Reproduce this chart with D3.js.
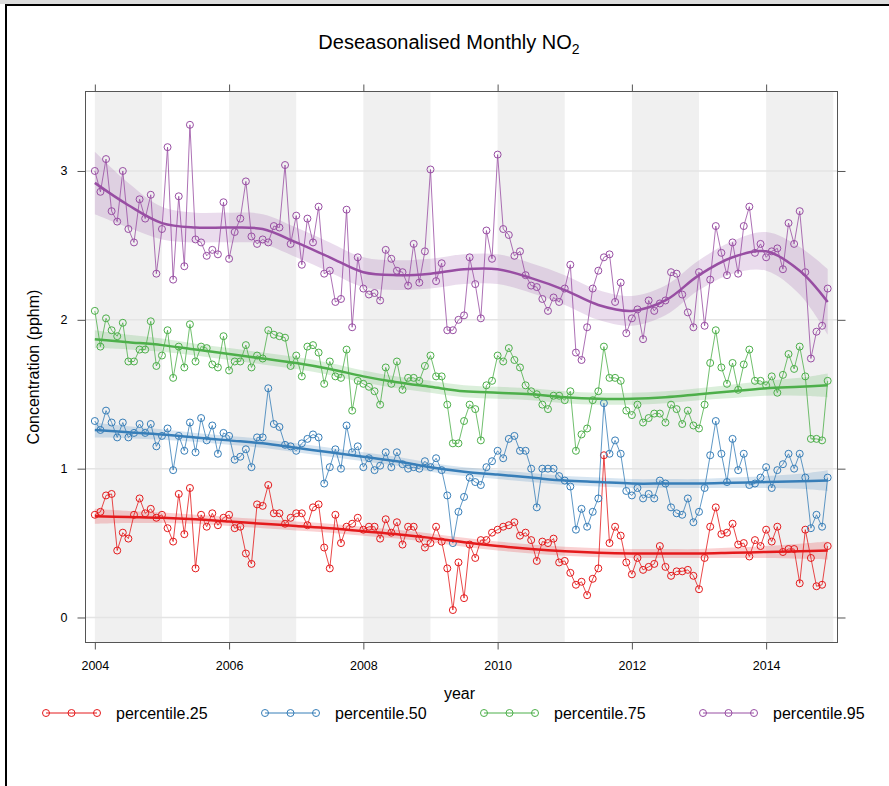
<!DOCTYPE html>
<html><head><meta charset="utf-8">
<script src="https://cdn.jsdelivr.net/npm/d3@7"></script>
<style>
body{margin:0;background:#fff}
svg{display:block}
text{font-family:"Liberation Sans",Arial,sans-serif;fill:#000}
</style>
</head><body><svg id="c" width="889" height="786"></svg>
<script>
// ---------- data ----------
const startYear = 2004;           // first month: Jan 2004, monthly to Dec 2014
const seriesNames = ["percentile.25","percentile.50","percentile.75","percentile.95"];
const seriesColors = ["#E41A1C","#377EB8","#4DAF4A","#984EA3"];

const p25 = [0.69,0.71,0.82,0.83,0.45,0.57,0.53,0.69,0.80,0.70,0.73,0.67,
0.69,0.60,0.51,0.83,0.56,0.87,0.33,0.69,0.61,0.70,0.62,0.67,
0.69,0.60,0.61,0.43,0.36,0.76,0.75,0.89,0.70,0.70,0.63,0.67,
0.70,0.70,0.62,0.74,0.76,0.47,0.33,0.69,0.50,0.61,0.63,0.67,
0.59,0.61,0.61,0.53,0.66,0.57,0.64,0.49,0.61,0.61,0.53,0.47,
0.50,0.61,0.51,0.33,0.05,0.37,0.13,0.49,0.40,0.52,0.52,0.57,
0.59,0.61,0.62,0.64,0.55,0.57,0.52,0.38,0.51,0.50,0.53,0.37,
0.38,0.30,0.22,0.24,0.15,0.26,0.33,1.09,0.50,0.61,0.55,0.37,
0.29,0.40,0.32,0.34,0.36,0.48,0.34,0.28,0.31,0.31,0.32,0.28,
0.19,0.40,0.61,0.74,0.56,0.57,0.63,0.49,0.50,0.41,0.52,0.48,
0.59,0.51,0.61,0.44,0.46,0.46,0.23,0.59,0.40,0.21,0.22,0.48];

const p50 = [1.32,1.26,1.39,1.31,1.21,1.31,1.21,1.24,1.30,1.24,1.30,1.15,
1.22,1.27,0.99,1.22,1.12,1.31,1.11,1.34,1.19,1.29,1.10,1.24,
1.22,1.06,1.08,1.13,1.01,1.21,1.21,1.54,1.30,1.28,1.16,1.15,
1.12,1.17,1.20,1.23,1.21,0.90,1.01,1.13,1.00,1.29,1.11,1.15,
1.01,1.07,0.99,1.02,1.11,1.01,1.11,1.03,1.00,1.01,1.00,1.05,
1.01,1.07,0.99,0.82,0.50,0.71,0.81,0.94,0.91,0.89,1.01,1.05,
1.12,1.07,1.20,1.22,1.12,1.12,1.00,0.74,1.00,1.00,1.00,0.95,
0.92,0.88,0.59,0.73,0.61,0.71,0.80,1.44,1.10,1.19,1.10,0.85,
0.82,0.87,0.80,0.83,0.80,0.92,0.90,0.74,0.70,0.69,0.80,0.64,
0.71,0.87,1.09,1.32,1.10,0.91,1.20,0.99,1.10,0.89,0.90,0.94,
1.01,0.87,0.99,1.03,1.10,1.00,1.10,0.94,0.60,0.69,0.61,0.94];

const p75 = [2.06,1.82,2.01,1.93,1.89,1.98,1.72,1.72,1.80,1.80,1.99,1.69,
1.76,1.93,1.61,1.82,1.68,1.97,1.72,1.82,1.81,1.70,1.68,1.89,
1.66,1.72,1.72,1.83,1.68,1.76,1.74,1.93,1.90,1.89,1.88,1.69,
1.76,1.62,1.82,1.83,1.78,1.57,1.72,1.62,1.61,1.80,1.39,1.59,
1.57,1.55,1.52,1.43,1.68,1.57,1.72,1.53,1.61,1.61,1.59,1.69,
1.76,1.62,1.62,1.43,1.17,1.17,1.32,1.43,1.40,1.19,1.56,1.59,
1.76,1.72,1.81,1.73,1.68,1.56,1.52,1.50,1.43,1.40,1.49,1.49,
1.46,1.52,1.12,1.23,1.27,1.46,1.52,1.82,1.61,1.61,1.59,1.39,
1.36,1.43,1.31,1.34,1.37,1.37,1.31,1.43,1.40,1.30,1.39,1.29,
1.27,1.43,1.71,1.93,1.68,1.57,1.71,1.53,1.70,1.80,1.59,1.59,
1.56,1.62,1.51,1.63,1.77,1.67,1.82,1.62,1.20,1.20,1.19,1.59];

const p95 = [3.00,2.86,3.08,2.73,2.66,3.00,2.61,2.52,2.81,2.68,2.84,2.31,
2.61,3.16,2.27,2.83,2.36,3.31,2.54,2.52,2.43,2.47,2.44,2.79,
2.41,2.59,2.68,2.93,2.56,2.51,2.54,2.52,2.63,2.62,3.04,2.51,
2.70,2.37,2.68,2.52,2.76,2.31,2.33,2.12,2.14,2.74,1.95,2.42,
2.21,2.17,2.18,2.13,2.47,2.41,2.33,2.32,2.23,2.51,2.25,2.46,
3.01,2.26,2.38,1.93,1.93,2.00,2.03,2.42,2.24,2.01,2.60,2.41,
3.11,2.61,2.57,2.43,2.46,2.30,2.23,2.22,2.14,2.06,2.15,2.12,
2.21,2.37,1.78,1.73,1.95,2.21,2.33,2.42,2.44,2.12,2.25,1.91,
2.01,2.07,1.87,2.13,2.06,2.11,2.13,2.32,2.31,2.17,2.05,1.95,
2.32,1.96,2.27,2.63,2.45,2.30,2.52,2.31,2.63,2.76,2.45,2.51,
2.42,2.46,2.48,2.34,2.65,2.51,2.73,2.32,1.74,1.92,1.96,2.21];

// smooth trend (read at half-year points) and half-width of its shaded band
const trendYears = [2004,2004.5,2005,2005.5,2006,2006.5,2007,2007.5,2008,2008.5,2009,2009.5,
2010,2010.5,2011,2011.5,2012,2012.5,2013,2013.5,2014,2014.5,2014.917];
const trend25 = [0.68,0.675,0.67,0.66,0.645,0.63,0.615,0.60,0.58,0.56,0.535,0.505,
0.48,0.46,0.445,0.435,0.43,0.43,0.43,0.435,0.44,0.445,0.45];
const trend50 = [1.26,1.245,1.23,1.21,1.19,1.17,1.14,1.11,1.08,1.05,1.01,0.98,
0.96,0.94,0.92,0.91,0.90,0.90,0.90,0.905,0.91,0.915,0.92];
const trend75 = [1.87,1.85,1.83,1.80,1.77,1.74,1.71,1.67,1.62,1.58,1.55,1.52,
1.51,1.50,1.48,1.47,1.47,1.48,1.50,1.52,1.54,1.55,1.56];
const trend95 = [2.92,2.77,2.65,2.62,2.62,2.61,2.52,2.42,2.32,2.30,2.31,2.34,
2.34,2.28,2.20,2.10,2.06,2.13,2.30,2.42,2.46,2.33,2.12];
const band25 = [0.05,0.04,0.035,0.03,0.03,0.03,0.03,0.03,0.03,0.03,0.03,0.03,
0.03,0.03,0.03,0.03,0.03,0.03,0.03,0.035,0.04,0.05,0.06];
const band50 = [0.05,0.04,0.035,0.03,0.03,0.03,0.03,0.03,0.03,0.03,0.03,0.03,
0.03,0.03,0.03,0.03,0.03,0.03,0.03,0.035,0.04,0.05,0.07];
const band75 = [0.06,0.05,0.045,0.04,0.04,0.04,0.04,0.04,0.04,0.04,0.04,0.04,
0.04,0.04,0.04,0.04,0.04,0.04,0.04,0.045,0.05,0.06,0.08];
const band95 = [0.21,0.15,0.11,0.10,0.10,0.10,0.10,0.10,0.10,0.10,0.10,0.10,
0.10,0.10,0.10,0.10,0.10,0.10,0.10,0.11,0.13,0.16,0.22];

const xTicks = [2004,2006,2008,2010,2012,2014];
const yTicks = [0,1,2,3];
const shadedYears = [2004,2006,2008,2010,2012,2014];

const values = [p25,p50,p75,p95];
const trends = [trend25,trend50,trend75,trend95];
const bands = [band25,band50,band75,band95];

// ---------- layout ----------
const svg = d3.select("#c");
const L = 85.5, R = 837.5, T = 91.5, B = 642.5;
const x = d3.scaleLinear().domain([2003.861, 2015.063]).range([L, R]);
const y = d3.scaleLinear().domain([-0.168, 3.534]).range([B, T]);

// page border
svg.append("rect").attr("x",0).attr("y",0).attr("width",889).attr("height",4).attr("fill","#dcdcdc");
svg.append("rect").attr("x",5).attr("y",4).attr("width",884).attr("height",2).attr("fill","#000");
svg.append("rect").attr("x",5).attr("y",4).attr("width",2).attr("height",782).attr("fill","#000");

svg.append("defs").append("clipPath").attr("id","clip")
  .append("rect").attr("x",L).attr("y",T).attr("width",R-L).attr("height",B-T);

const plot = svg.append("g").attr("clip-path","url(#clip)");

// alternating year shading
plot.selectAll("rect.shade").data(shadedYears).join("rect").attr("class","shade")
  .attr("x", d => x(d)).attr("y", T)
  .attr("width", d => Math.min(x(d+1), R) - x(d)).attr("height", B-T)
  .attr("fill","#f0f0f0");

// horizontal grid
plot.selectAll("line.grid").data(yTicks).join("line").attr("class","grid")
  .attr("x1",L).attr("x2",R).attr("y1",d=>y(d)).attr("y2",d=>y(d))
  .attr("stroke","#e4e4e4").attr("stroke-width",1.5);

const area = d3.area().curve(d3.curveCatmullRom)
  .x(d => x(d.t)).y0(d => y(d.v - d.b)).y1(d => y(d.v + d.b));
const tline = d3.line().curve(d3.curveCatmullRom).x(d => x(d.t)).y(d => y(d.v));
const dline = d3.line().x(d => x(d.t)).y(d => y(d.v));

values.forEach((vals, s) => {
  const col = seriesColors[s];
  const tr = trendYears.map((t,k) => ({t, v: trends[s][k], b: bands[s][k]}));
  plot.append("path").attr("d", area(tr)).attr("fill", col).attr("fill-opacity", 0.2);
});

values.forEach((vals, s) => {
  const col = seriesColors[s];
  const pts = vals.map((v,i) => ({t: startYear + i/12, v}));
  plot.append("path").attr("d", dline(pts)).attr("fill","none")
    .attr("stroke", col).attr("stroke-width",1).attr("stroke-opacity",0.8);
  plot.selectAll(null).data(pts).join("circle")
    .attr("cx", d => x(d.t)).attr("cy", d => y(d.v)).attr("r", 3.5)
    .attr("fill","none").attr("stroke", col).attr("stroke-width",1);
});

values.forEach((vals, s) => {
  const tr = trendYears.map((t,k) => ({t, v: trends[s][k]}));
  plot.append("path").attr("d", tline(tr)).attr("fill","none")
    .attr("stroke", seriesColors[s]).attr("stroke-width",2.5);
});

// frame
svg.append("rect").attr("x",L).attr("y",T).attr("width",R-L).attr("height",B-T)
  .attr("fill","none").attr("stroke","#555").attr("stroke-width",1);

// axes
function styleAxis(g){ g.select(".domain").remove(); g.selectAll(".tick line").attr("stroke","#555");
  g.selectAll("text").style("font-size","12.5px").attr("fill","#000"); }
svg.append("g").attr("transform",`translate(0,${B})`)
  .call(d3.axisBottom(x).tickValues(xTicks).tickFormat(d3.format("d")).tickSize(7).tickPadding(12)).call(styleAxis);
svg.append("g").attr("transform",`translate(0,${T})`)
  .call(d3.axisTop(x).tickValues(xTicks).tickFormat("").tickSize(7)).call(styleAxis);
svg.append("g").attr("transform",`translate(${L},0)`)
  .call(d3.axisLeft(y).tickValues(yTicks).tickFormat(d3.format("d")).tickSize(8).tickPadding(10)).call(styleAxis);
svg.append("g").attr("transform",`translate(${R},0)`)
  .call(d3.axisRight(y).tickValues(yTicks).tickFormat("").tickSize(8)).call(styleAxis);

// titles
const title = svg.append("text").attr("x",449).attr("y",49).attr("text-anchor","middle").style("font-size","20px");
title.append("tspan").text("Deseasonalised Monthly NO");
title.append("tspan").attr("dy",5).style("font-size","14px").text("2");

svg.append("text").attr("transform",`translate(39,${(T+B)/2}) rotate(-90)`)
  .attr("text-anchor","middle").style("font-size","16px").text("Concentration (pphm)");
svg.append("text").attr("x",(L+R)/2 - 2).attr("y",699).attr("text-anchor","middle")
  .style("font-size","16px").text("year");

// legend
const legX0 = 46, legStep = 219, legY = 713;
seriesNames.forEach((name, s) => {
  const g = svg.append("g").attr("transform",`translate(${legX0 + s*legStep},${legY})`);
  g.append("line").attr("x1",0).attr("x2",51).attr("stroke",seriesColors[s]).attr("stroke-width",1);
  [0,25.5,51].forEach(cx => g.append("circle").attr("cx",cx).attr("r",3.5)
    .attr("fill","none").attr("stroke",seriesColors[s]).attr("stroke-width",1));
  g.append("text").attr("x",70).attr("y",6).style("font-size","16px").text(name);
});
</script>
</body></html>
